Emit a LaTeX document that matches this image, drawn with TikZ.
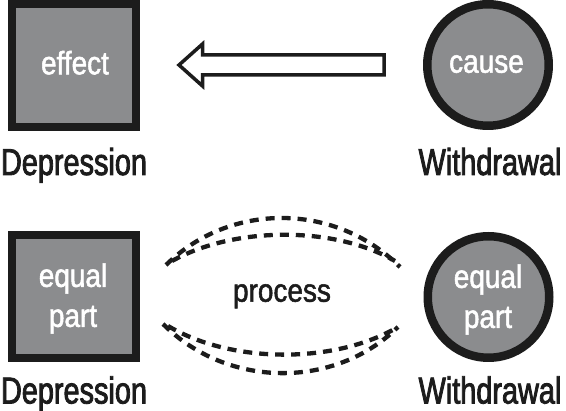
\documentclass[tikz,border=0pt]{standalone}
\usepackage{fontspec}
\newfontfamily\labfont[FakeStretch=0.77,FakeBold=2.2]{Liberation Sans}
\newfontfamily\innfont[FakeStretch=0.86,FakeBold=1.6]{Liberation Sans}
\definecolor{boxgray}{HTML}{8B8C8E}
\definecolor{ink}{HTML}{1C1C1C}
\begin{document}
\begin{tikzpicture}[x=1pt,y=-1pt,
  sqbox/.style={draw=ink,fill=boxgray,line width=8pt,minimum width=124pt,minimum height=123pt,inner sep=0pt},
  circbox/.style={draw=ink,fill=boxgray,line width=8.5pt,circle,minimum size=121.5pt,inner sep=0pt},
  intext/.style={text=white,font=\innfont\fontsize{32.5}{40}\selectfont,inner sep=0pt,align=center},
  labtext/.style={text=ink,font=\labfont\fontsize{37.5}{40}\selectfont,inner sep=0pt,anchor=base},
  proctext/.style={text=ink,font=\innfont\fontsize{32.5}{40}\selectfont,inner sep=0pt,anchor=base},
  arc/.style={draw=ink,line width=4.3pt,dash pattern=on 9pt off 7pt},
  blockarrow/.style={draw=ink,fill=white,line width=3.5pt,line join=miter}]
\useasboundingbox (0,0) rectangle (566,411);
% top row
\node[sqbox] (effect) at (74,65.5) {};
\node[intext,anchor=base] (effecttxt) at (75,74.3) {effect};
\node[circbox] (cause) at (488,65) {};
\node[intext,anchor=base] (causetxt) at (486.5,72.7) {cause};
\node[labtext] (dep1) at (74,175) {Depression};
\node[labtext] (wd1) at (490,175) {Withdrawal};
% block arrow
\coordinate (atip) at (179,65);
\draw[blockarrow] (atip) -- (202.5,44) -- (202.5,55) -- (384,55) -- (384,75) -- (202.5,75) -- (202.5,86) -- cycle;
% bottom row
\node[sqbox] (eq1) at (74,296.5) {};
\node[intext] (eq1txt) at (73,298.5) {equal\\part};
\node[circbox] (eq2) at (488.5,297) {};
\node[intext] (eq2txt) at (488,299.5) {equal\\part};
\node[labtext] (dep2) at (74,403.5) {Depression};
\node[labtext] (wd2) at (490,403.5) {Withdrawal};
\node[proctext] (proc) at (282,301.7) {process};
% dashed arcs
\coordinate (ul) at (166,265);
\coordinate (ur) at (400,267);
\coordinate (uli) at (172,261);
\coordinate (uri) at (395,261);
\coordinate (ll) at (163,324);
\coordinate (lr) at (398,327);
\coordinate (lli) at (168,326);
\coordinate (lri) at (398,327);
\draw[arc] (ul) .. controls (230,202) and (335,202) .. (ur);
\draw[arc] (uli) .. controls (235,226) and (335,226) .. (uri);
\draw[arc] (ll) .. controls (228,389) and (335,389) .. (lr);
\draw[arc] (lli) .. controls (232,364) and (335,364) .. (lri);
\end{tikzpicture}
\end{document}
